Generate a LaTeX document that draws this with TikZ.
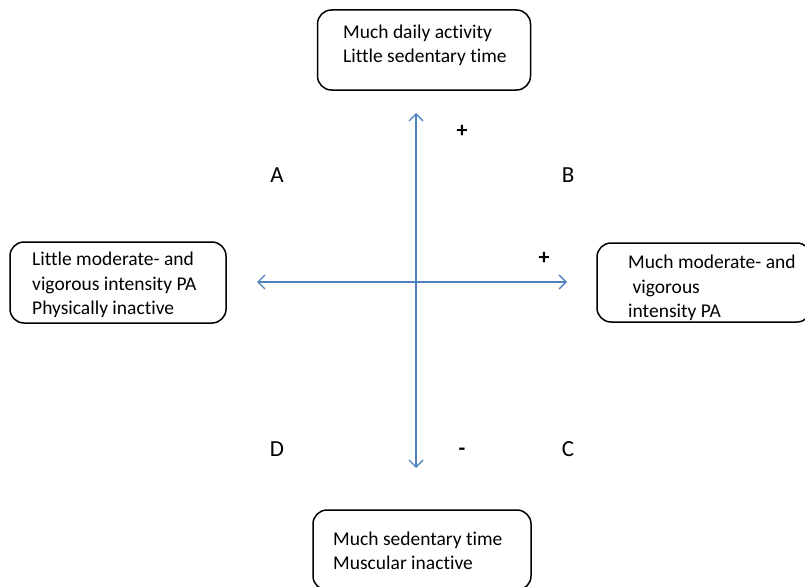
\documentclass[tikz,border=0pt]{standalone}
\usepackage{fontspec}
\setmainfont{Carlito}[Ligatures={NoCommon}]
\usetikzlibrary{arrows.meta}
\definecolor{axisblue}{HTML}{4F81BD}
\tikzset{
  box/.style={draw=black, line width=1.5pt, rounded corners=14pt, inner sep=0pt},
  txt/.style={anchor=base west, inner sep=0pt, font=\fontsize{19.5}{24}\selectfont},
  lbl/.style={anchor=center, inner sep=0pt, font=\fontsize{23}{26}\selectfont},
  sign/.style={anchor=center, inner sep=0pt, font=\bfseries\fontsize{22}{26}\selectfont},
  axis/.style={draw=axisblue, line width=1.3pt, {Straight Barb[length=7pt,width=14pt,line width=1.3pt]}-{Straight Barb[length=7pt,width=14pt,line width=1.3pt]}}
}
\begin{document}
\begin{tikzpicture}[x=1pt,y=-1pt]
\useasboundingbox (0,0) rectangle (805,586);
\begin{scope}
\clip (0,0) rectangle (805,586);
% boxes
\node[box, minimum width=213pt, minimum height=80pt] (topbox) at (424,50) {};
\node[box, minimum width=216pt, minimum height=81pt] (leftbox) at (118,282.5) {};
\node[box, minimum width=214pt, minimum height=79pt] (rightbox) at (704,282.5) {};
\node[box, minimum width=218pt, minimum height=80pt] (bottombox) at (422,550) {};
\end{scope}
% texts
\node[txt] (t1) at (343,39) {Much daily activity};
\node[txt] (t2) at (343,63) {Little sedentary time};
\node[txt] (l1) at (32,265) {Little moderate-\ and};
\node[txt] (l2) at (32,290) {vigorous intensity PA};
\node[txt] (l3) at (32,314) {Physically inactive};
\node[txt] (r1) at (628,268) {Much moderate- and};
\node[txt] (r2) at (628,293) {\ vigorous};
\node[txt] (r3) at (628,317) {intensity PA};
\node[txt] (b1) at (333,545) {Much sedentary time};
\node[txt] (b2) at (333,569) {Muscular inactive};
% axes
\coordinate (ctop) at (416,113);
\coordinate (cbot) at (416,468);
\coordinate (cleft) at (257,282);
\coordinate (cright) at (567,282);
\draw[axis] (cbot) -- (ctop);
\draw[axis] (cleft) -- (cright);
% labels
\node[lbl] (A) at (277,175) {A};
\node[lbl] (B) at (568,175) {B};
\node[lbl] (D) at (277,449) {D};
\node[lbl] (C) at (568,449) {C};
\node[sign] (p1) at (462,131) {+};
\node[sign] (p2) at (544,258) {+};
\node[sign] (m1) at (462,452) {-};
\end{tikzpicture}
\end{document}
